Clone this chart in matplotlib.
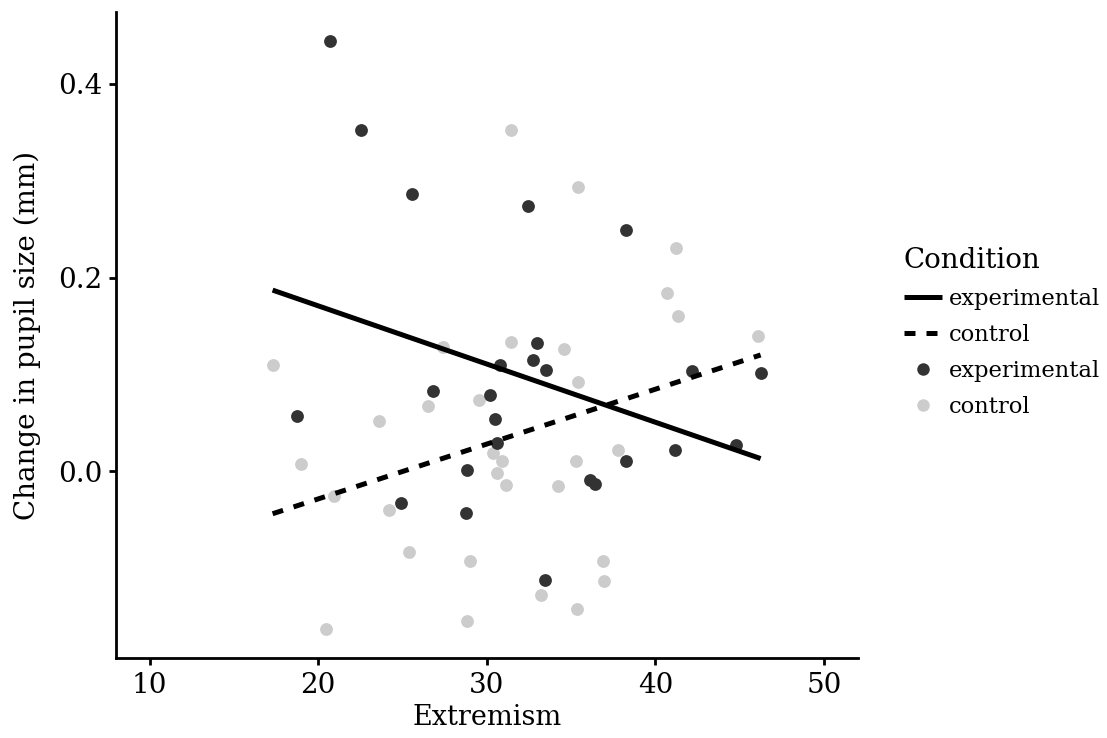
import matplotlib
matplotlib.use("Agg")
import matplotlib.pyplot as plt
from matplotlib.lines import Line2D


# extremism / pupil change
exp_x = [20.69, 22.53, 25.54, 32.43, 38.24, 46.24, 42.18, 41.16, 44.76, 18.73,
         24.89, 26.78, 32.97, 32.73, 30.80, 30.17, 30.46, 30.60, 28.81, 28.79,
         33.52, 36.14, 36.43, 38.28, 33.44]
exp_y = [0.444, 0.352, 0.286, 0.274, 0.249, 0.101, 0.103, 0.022, 0.027, 0.057,
         -0.033, 0.083, 0.132, 0.115, 0.110, 0.079, 0.054, 0.029, 0.001, -0.043,
         0.104, -0.009, -0.013, 0.010, -0.112]

ctrl_x = [31.43, 35.43, 41.24, 40.68, 41.33, 46.06, 17.29, 19.00, 20.91, 24.20,
          23.63, 26.53, 27.37, 31.43, 29.52, 30.34, 30.87, 30.60, 31.15, 34.58,
          35.43, 34.24, 35.27, 37.79, 25.36, 28.98, 36.88, 36.96, 33.24, 35.33,
          28.81, 20.46]
ctrl_y = [0.352, 0.294, 0.230, 0.184, 0.160, 0.1395, 0.110, 0.007, -0.026, -0.040,
          0.052, 0.067, 0.128, 0.133, 0.073, 0.019, 0.010, -0.002, -0.014, 0.126,
          0.092, -0.015, 0.011, 0.022, -0.083, -0.093, -0.093, -0.113, -0.128, -0.142,
          -0.155, -0.163]

# fitted lines (endpoints over the data range)
fit_x = [17.29, 46.24]
fit_exp = [0.187, 0.013]
fit_ctrl = [-0.044, 0.120]

x_ticks = [10, 20, 30, 40, 50]
y_ticks = [0.0, 0.2, 0.4]

DARK = "#333333"
LIGHT = "#CCCCCC"


def main() -> None:
    plt.rcParams["font.family"] = "DejaVu Serif"

    fig = plt.figure(figsize=(11.07, 7.38), dpi=100)
    ax = fig.add_axes([0.1048, 0.1084, 0.670, 0.875])

    ax.scatter(ctrl_x, ctrl_y, s=85, color=LIGHT, linewidths=0, zorder=2)
    ax.scatter(exp_x, exp_y, s=85, color=DARK, linewidths=0, zorder=3)

    ax.plot(fit_x, fit_exp, color="black", linewidth=3.6, solid_capstyle="butt", zorder=4)
    ax.plot(fit_x, fit_ctrl, color="black", linewidth=3.6,
            linestyle=(0, (2.2, 2.2)), dash_capstyle="butt", zorder=4)

    ax.set_xlim(8, 52)
    ax.set_ylim(-0.193, 0.474)
    ax.set_xticks(x_ticks)
    ax.set_yticks(y_ticks)
    ax.set_yticklabels([f"{v:.1f}" for v in y_ticks])

    for side in ("top", "right"):
        ax.spines[side].set_visible(False)
    for side in ("left", "bottom"):
        ax.spines[side].set_linewidth(2.0)
    ax.tick_params(width=2.0, length=5, labelsize=20, color="black", pad=5)

    ax.set_xlabel("Extremism", fontsize=19.5, labelpad=4)
    ax.set_ylabel("Change in pupil size (mm)", fontsize=20, labelpad=12)

    handles = [
        Line2D([], [], color="black", linewidth=3.6, solid_capstyle="butt"),
        Line2D([], [], color="black", linewidth=3.6, linestyle=(0, (2.2, 2.2)),
               dash_capstyle="butt"),
        Line2D([], [], marker="o", linestyle="none", markersize=9,
               markerfacecolor=DARK, markeredgewidth=0),
        Line2D([], [], marker="o", linestyle="none", markersize=9,
               markerfacecolor=LIGHT, markeredgewidth=0),
    ]
    labels = ["experimental", "control", "experimental", "control"]
    fig.legend(
        handles, labels,
        title="Condition",
        loc="center left",
        bbox_to_anchor=(0.808, 0.549),
        frameon=False,
        fontsize=16.3,
        title_fontsize=20,
        alignment="left",
        handlelength=1.7,
        handletextpad=0.3,
        labelspacing=0.62,
        borderaxespad=0,
    )

    fig.savefig("out.png", dpi=100)


if __name__ == "__main__":
    main()
